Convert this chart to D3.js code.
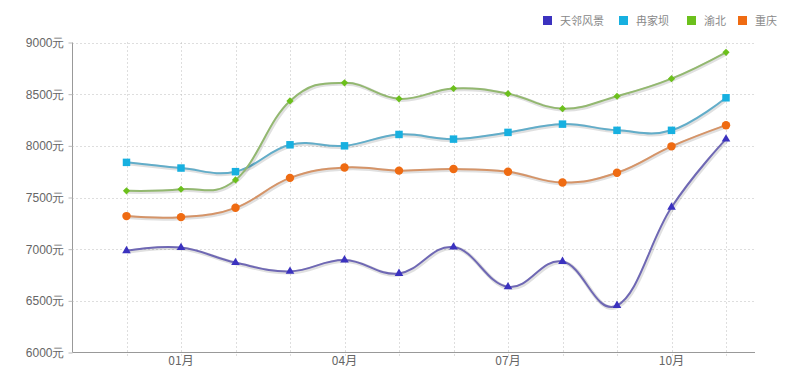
<!DOCTYPE html>
<html>
<head>
<meta charset="utf-8">
<script src="https://cdn.jsdelivr.net/npm/d3@7"></script>
<style>
  body { margin: 0; background: #fff; }
  svg { display: block; font-family: "Microsoft YaHei", "Noto Sans CJK SC", sans-serif; }
</style>
</head>
<body>
<svg id="chart" width="800" height="384"></svg>
<script>
// données
const months = ["12月", "01月", "02月", "03月", "04月", "05月", "06月", "07月", "08月", "09月", "10月", "11月"];
const shownMonths = ["01月", "04月", "07月", "10月"];
const yTicks = [6000, 6500, 7000, 7500, 8000, 8500, 9000];

const seriesNames = ["天邻风景", "冉家坝", "渝北", "重庆"];
const tianlin = [6985, 7015, 6870, 6785, 6895, 6765, 7020, 6635, 6880, 6455, 7405, 8065];
const ranjiaba = [7840, 7785, 7750, 8010, 8000, 8110, 8065, 8130, 8210, 8150, 8150, 8465];
const yubei = [7565, 7580, 7670, 8435, 8610, 8455, 8555, 8505, 8360, 8480, 8650, 8905];
const chongqing = [7320, 7310, 7400, 7690, 7790, 7760, 7775, 7750, 7645, 7740, 7995, 8200];

const markerColors = ["#3b32bf", "#17b0e0", "#6cc01c", "#ef6b12"];
const lineColors = ["#6f68b4", "#62adc9", "#93b870", "#d59468"];
const symbols = [d3.symbolTriangle, d3.symbolSquare, d3.symbolSquare, d3.symbolCircle];
const symbolSizes = [32, 56, 26, 56];
const symbolRotate = [0, 0, 45, 0];

const allSeries = [tianlin, ranjiaba, yubei, chongqing];

const svg = d3.select("#chart");
const plotLeft = 72.5, plotRight = 755, plotTop = 42.5, plotBottom = 352.5;

const x = d3.scalePoint().domain(months).range([126.5, 726]);
const y = d3.scaleLinear().domain([6000, 9000]).range([plotBottom, plotTop]);

// grille horizontale
svg.append("g").selectAll("line")
  .data(yTicks.slice(1))
  .join("line")
  .attr("x1", plotLeft).attr("x2", plotRight)
  .attr("y1", d => Math.round(y(d)) + 0.5).attr("y2", d => Math.round(y(d)) + 0.5)
  .attr("stroke", "#bdbdbd").attr("stroke-dasharray", "1,3");

// grille verticale
svg.append("g").selectAll("line")
  .data(months)
  .join("line")
  .attr("x1", d => Math.round(x(d)) + 0.5).attr("x2", d => Math.round(x(d)) + 0.5)
  .attr("y1", plotTop).attr("y2", plotBottom + 4)
  .attr("stroke", "#bdbdbd").attr("stroke-dasharray", "1,3");

// axes
svg.append("line").attr("x1", plotLeft).attr("x2", plotLeft).attr("y1", plotTop).attr("y2", plotBottom)
  .attr("stroke", "#999");
svg.append("line").attr("x1", plotLeft).attr("x2", plotRight).attr("y1", plotBottom).attr("y2", plotBottom)
  .attr("stroke", "#999");

const yAxis = svg.append("g").attr("transform", `translate(${plotLeft},0)`)
  .call(d3.axisLeft(y).tickValues(yTicks).tickSize(4).tickFormat(d => d + "元"));
yAxis.select(".domain").remove();
yAxis.selectAll("line").attr("stroke", "#bbb");
yAxis.selectAll("text").attr("fill", "#666").attr("font-size", 12).attr("dx", -1);

svg.append("g").selectAll("text")
  .data(shownMonths)
  .join("text")
  .attr("x", d => x(d)).attr("y", plotBottom + 12)
  .attr("text-anchor", "middle")
  .attr("fill", "#666").attr("font-size", 12)
  .text(d => d);

// courbes
const line = d3.line()
  .x((d, i) => x(months[i]))
  .y(d => y(d))
  .curve(d3.curveCardinal.tension(-0.2));

allSeries.forEach((data, k) => {
  const g = svg.append("g");
  g.append("path").attr("d", line(data))
    .attr("fill", "none").attr("stroke", "#000").attr("stroke-opacity", 0.12)
    .attr("stroke-width", 4).attr("transform", "translate(1,1)");
  g.append("path").attr("d", line(data))
    .attr("fill", "none").attr("stroke", lineColors[k]).attr("stroke-width", 2);
  g.selectAll("path.pt")
    .data(data)
    .join("path")
    .attr("class", "pt")
    .attr("transform", (d, i) => `translate(${x(months[i])},${y(d)}) rotate(${symbolRotate[k]})`)
    .attr("d", d3.symbol(symbols[k], symbolSizes[k]))
    .attr("fill", markerColors[k]);
});

// légende
const legendX = [543, 619, 687, 738];
const legend = svg.append("g").selectAll("g")
  .data(seriesNames)
  .join("g")
  .attr("transform", (d, i) => `translate(${legendX[i]},16)`);
legend.append("rect").attr("width", 9).attr("height", 9)
  .attr("fill", (d, i) => markerColors[i]);
legend.append("text").attr("x", 17).attr("y", 5).attr("dy", "0.35em")
  .attr("fill", "#888").attr("font-size", 11)
  .text(d => d);
</script>
</body>
</html>
